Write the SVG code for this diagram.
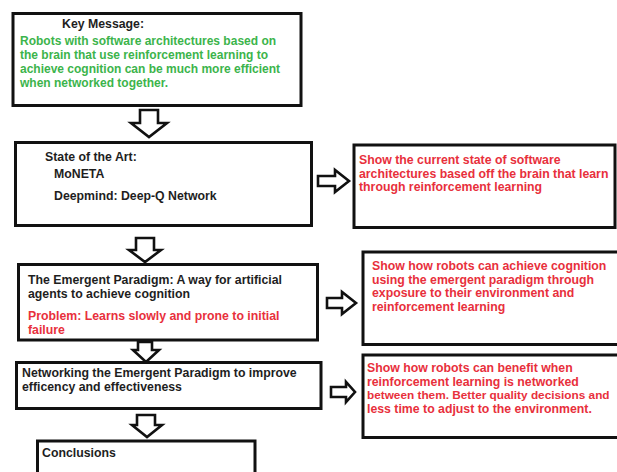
<svg xmlns="http://www.w3.org/2000/svg" width="617" height="472" viewBox="0 0 617 472">
<style>
.box{fill:#fff;stroke:#111;stroke-width:3}
.arr{fill:#fff;stroke:#111;stroke-width:2.6;stroke-linejoin:miter}
text{font-family:"Liberation Sans",Arial,sans-serif;font-weight:bold;font-size:12.3px}
.k{fill:#1e1e1e}
.r{fill:#e8303c}
.g{fill:#3cb44b;font-size:12px}
</style>
<rect width="617" height="472" fill="#fff"/>
<g id="connectors">
<path class="arr" d="M140,110 H158 V123 H167 L149,137 L131,123 H140 Z"/>
<path class="arr" d="M136,238 H154 V250 H161 L145,262 L129,250 H136 Z"/>
<path class="arr" d="M138,342 H152 V350 H159 L146,362 L133,350 H138 Z"/>
<path class="arr" d="M137,415 H155 V425 H162 L147,437 L132,425 H137 Z"/>
<path class="arr" d="M318,176 H335 V170 L349,181 L335,192 V186 H318 Z"/>
<path class="arr" d="M327,298 H342 V292 L356,303 L342,314 V308 H327 Z"/>
<path class="arr" d="M331,387 H346 V382 L355,392 L346,402 V397 H331 Z"/>
</g>
<g id="key-message">
<rect class="box" x="13" y="13.5" width="288" height="92"/>
<text class="k" x="62" y="28">Key Message:</text>
<text class="g" x="20" y="45">Robots with software architectures based on</text>
<text class="g" x="20" y="59">the brain that use reinforcement learning to</text>
<text class="g" x="20" y="73">achieve cognition can be much more efficient</text>
<text class="g" x="20" y="87">when networked together.</text>
</g>
<g id="state-of-art">
<rect class="box" x="15.5" y="142.5" width="296" height="83"/>
<text class="k" x="45" y="161">State of the Art:</text>
<text class="k" x="54" y="178">MoNETA</text>
<text class="k" x="54" y="200">Deepmind: Deep-Q Network</text>
</g>
<g id="state-of-art-note">
<rect class="box" x="354" y="145" width="261" height="82.5"/>
<text class="r" x="359" y="164">Show the current state of software</text>
<text class="r" x="359" y="177.5">architectures based off the brain that learn</text>
<text class="r" x="359" y="191">through reinforcement learning</text>
</g>
<g id="emergent-paradigm">
<rect class="box" x="18.5" y="264.5" width="299" height="75.5"/>
<text class="k" x="28" y="284">The Emergent Paradigm: A way for artificial</text>
<text class="k" x="28" y="298">agents to achieve cognition</text>
<text class="r" x="28" y="320">Problem: Learns slowly and prone to initial</text>
<text class="r" x="28" y="334">failure</text>
</g>
<g id="emergent-note">
<rect class="box" x="363" y="252" width="262" height="92.5"/>
<text class="r" x="372" y="270">Show how robots can achieve cognition</text>
<text class="r" x="372" y="283.5">using the emergent paradigm through</text>
<text class="r" x="372" y="297">exposure to their environment and</text>
<text class="r" x="372" y="310.5">reinforcement learning</text>
</g>
<g id="networking">
<rect class="box" x="16.5" y="362.5" width="304.5" height="46"/>
<text class="k" x="22" y="377">Networking the Emergent Paradigm to improve</text>
<text class="k" x="22" y="391">efficency and effectiveness</text>
</g>
<g id="networking-note">
<rect class="box" x="363" y="355" width="262" height="82.5"/>
<text class="r" x="367" y="372">Show how robots can benefit when</text>
<text class="r" x="367" y="385.5">reinforcement learning is networked</text>
<text class="r" x="367" y="399" style="font-size:11.8px">between them. Better quality decisions and</text>
<text class="r" x="367" y="412.5">less time to adjust to the environment.</text>
</g>
<g id="conclusions">
<rect class="box" x="37.5" y="441" width="217.5" height="40"/>
<text class="k" x="42" y="457">Conclusions</text>
</g>
</svg>
